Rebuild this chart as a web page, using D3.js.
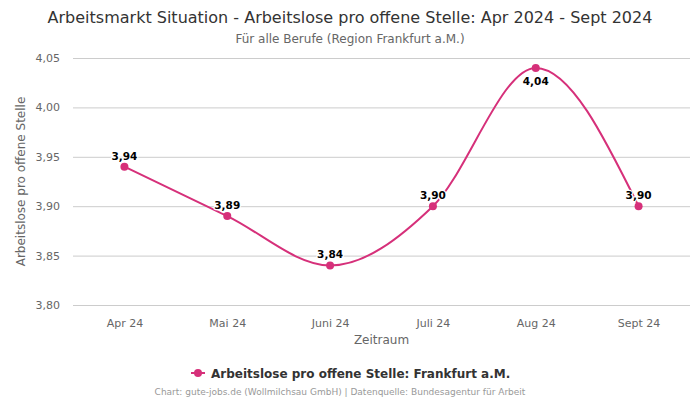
<!DOCTYPE html>
<html><head><meta charset="utf-8">
<script src="https://cdn.jsdelivr.net/npm/d3@7"></script>
<style>body{margin:0;background:#fff}svg{font-family:"DejaVu Sans",sans-serif}</style>
</head><body><svg id="c" width="700" height="400"></svg>
<script>
const categories = ["Apr 24","Mai 24","Juni 24","Juli 24","Aug 24","Sept 24"];
const values = [3.94, 3.89, 3.84, 3.90, 4.04, 3.90];
const yTicks = [3.80, 3.85, 3.90, 3.95, 4.00, 4.05];
const seriesName = "Arbeitslose pro offene Stelle: Frankfurt a.M.";
const color = "#d6307a";
const fmt = v => v.toFixed(2).replace(".", ",");

const svg = d3.select("#c");
const L = 73, R = 690, T = 58, B = 305;
const x = d3.scalePoint().domain(categories).range([L, R]).padding(0.5);
const y = d3.scaleLinear().domain([3.80, 4.05]).range([B, T]);

svg.append("text").attr("x", 350).attr("y", 22.5).attr("text-anchor", "middle")
  .attr("font-size", 16).attr("fill", "#333").text("Arbeitsmarkt Situation - Arbeitslose pro offene Stelle: Apr 2024 - Sept 2024");
svg.append("text").attr("x", 350).attr("y", 43).attr("text-anchor", "middle")
  .attr("font-size", 12).attr("fill", "#666").text("Für alle Berufe (Region Frankfurt a.M.)");

const ya = svg.append("g").attr("transform", `translate(${L},0)`)
  .call(d3.axisLeft(y).tickValues(yTicks).tickSize(-(R - L)).tickFormat(fmt));
ya.select(".domain").remove();
ya.selectAll(".tick line").attr("stroke", "#ccc");
ya.selectAll(".tick text").attr("x", -13).attr("font-size", 11).attr("fill", "#666").attr("font-family", "DejaVu Sans");

const xa = svg.append("g").attr("transform", `translate(0,${B})`)
  .call(d3.axisBottom(x).tickSize(0).tickPadding(14));
xa.select(".domain").remove();
xa.selectAll(".tick text").attr("font-size", 11).attr("fill", "#666").attr("font-family", "DejaVu Sans");

svg.append("text").attr("transform", `translate(25,${(T + B) / 2}) rotate(-90)`).attr("text-anchor", "middle")
  .attr("font-size", 12).attr("fill", "#666").text("Arbeitslose pro offene Stelle");
svg.append("text").attr("x", (L + R) / 2).attr("y", 344).attr("text-anchor", "middle")
  .attr("font-size", 12).attr("fill", "#666").text("Zeitraum");

const line = d3.line().x((d, i) => x(categories[i])).y(d => y(d)).curve(d3.curveMonotoneX);
svg.append("path").datum(values).attr("d", line).attr("fill", "none").attr("stroke", color).attr("stroke-width", 2);

svg.selectAll("circle.pt").data(values).enter().append("circle")
  .attr("cx", (d, i) => x(categories[i])).attr("cy", d => y(d)).attr("r", 4).attr("fill", color);

const maxV = d3.max(values);
svg.selectAll("text.lbl").data(values).enter().append("text")
  .attr("x", (d, i) => x(categories[i]))
  .attr("y", d => d === maxV ? y(d) + 17 : y(d) - 7)
  .attr("text-anchor", "middle").attr("font-size", 10.5).attr("font-weight", "bold")
  .attr("fill", "#000").attr("stroke", "#fff").attr("stroke-width", 2.5).attr("paint-order", "stroke")
  .attr("stroke-linejoin", "round").text(fmt);

const lg = svg.append("g");
lg.append("line").attr("x1", 191).attr("x2", 205).attr("y1", 373).attr("y2", 373).attr("stroke", color).attr("stroke-width", 2);
lg.append("circle").attr("cx", 198).attr("cy", 373).attr("r", 4).attr("fill", color);
lg.append("text").attr("x", 211).attr("y", 377.5).attr("font-size", 12).attr("font-weight", "bold").attr("fill", "#333").text(seriesName);

svg.append("text").attr("x", 340).attr("y", 395).attr("text-anchor", "middle").attr("font-size", 9).attr("fill", "#999")
  .text("Chart: gute-jobs.de (Wollmilchsau GmbH) | Datenquelle: Bundesagentur für Arbeit");
</script></body></html>
